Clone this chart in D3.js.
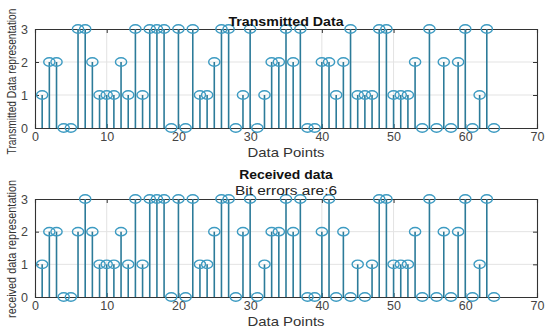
<!DOCTYPE html>
<html><head><meta charset="utf-8">
<script src="https://cdn.jsdelivr.net/npm/d3@7/dist/d3.min.js"></script>
<style>
body{margin:0;background:#fff;}
svg{display:block;font-family:"Liberation Sans",Arial,sans-serif;}
</style></head>
<body><svg id="c" width="550" height="329"></svg>
<script>
const points = d3.range(1, 65);
const transmitted = [1,2,2,0,0,3,3,2,1,1,1,2,1,3,1,3,3,3,0,3,0,3,1,1,2,3,3,0,1,3,0,1,2,2,3,2,3,0,0,2,2,1,2,3,1,1,1,3,3,1,1,1,2,0,3,0,2,0,2,3,0,1,3,0];
const received    = [1,2,2,0,0,2,3,2,1,1,1,2,1,3,1,3,3,3,0,3,0,3,1,1,2,3,3,0,2,3,0,1,2,2,3,2,3,0,0,2,3,0,2,0,1,0,1,3,3,1,1,1,2,0,3,0,2,0,2,3,0,1,3,0];
const xTicks = [0,10,20,30,40,50,60,70];
const yTicks = [0,1,2,3];
const bitErrors = transmitted.filter((v,i)=>v!==received[i]).length;

const svg = d3.select("#c");
const x = d3.scaleLinear().domain([0,70]).range([35,537]);

function panel(values, y0, y1, title, subtitle, ylabel, ylabelLen, titleY, ylabelShift){
  const y = d3.scaleLinear().domain([0,3]).range([y0,y1]);
  const g = svg.append("g");
  // grid
  g.selectAll(".gx").data(xTicks.slice(1,-1)).enter().append("line")
    .attr("x1",d=>x(d)).attr("x2",d=>x(d)).attr("y1",y(0)).attr("y2",y(3))
    .attr("stroke","#e3e3e3").attr("stroke-width",1);
  g.selectAll(".gy").data(yTicks.slice(1,-1)).enter().append("line")
    .attr("x1",x(0)).attr("x2",x(70)).attr("y1",d=>y(d)).attr("y2",d=>y(d))
    .attr("stroke","#e3e3e3").attr("stroke-width",1);
  // axes
  const ax = g.append("g").attr("transform",`translate(0,${y(0)})`)
    .call(d3.axisBottom(x).tickValues(xTicks).tickSize(-4).tickPadding(4).tickFormat(d3.format("d")));
  const axT = g.append("g").attr("transform",`translate(0,${y(3)})`)
    .call(d3.axisTop(x).tickValues(xTicks).tickSize(-4).tickFormat(""));
  const ay = g.append("g").attr("transform",`translate(${x(0)},0)`)
    .call(d3.axisLeft(y).tickValues(yTicks).tickSize(-4).tickPadding(7).tickFormat(d3.format("d")));
  const ayR = g.append("g").attr("transform",`translate(${x(70)},0)`)
    .call(d3.axisRight(y).tickValues(yTicks).tickSize(-4).tickFormat(""));
  [ax,axT,ay,ayR].forEach(a=>{
    a.select(".domain").attr("stroke","#333").attr("stroke-width",1.1);
    a.selectAll(".tick line").attr("stroke","#333");
    a.selectAll("text").attr("fill","#444").attr("font-size",12.5)
      .attr("font-family","'Liberation Sans',Arial,sans-serif");
  });
  // stems
  g.selectAll(".stem").data(values).enter().append("line")
    .attr("x1",(d,i)=>x(points[i])).attr("x2",(d,i)=>x(points[i]))
    .attr("y1",y(0)).attr("y2",d=>y(d))
    .attr("stroke","#2c7b99").attr("stroke-width",1.6);
  g.selectAll(".mk").data(values).enter().append("ellipse")
    .attr("cx",(d,i)=>x(points[i])).attr("cy",d=>y(d))
    .attr("rx",5.6).attr("ry",4.2)
    .attr("fill","none").attr("stroke","#3d9bc2").attr("stroke-width",1.4);
  // title
  g.append("text").attr("x",286).attr("y",titleY).attr("text-anchor","middle")
    .attr("font-weight","bold").attr("font-size",12).attr("fill","#111")
    .attr("textLength",title.length*7.2).attr("lengthAdjust","spacingAndGlyphs")
    .text(title);
  if(subtitle){
    g.append("text").attr("x",286).attr("y",titleY+16).attr("text-anchor","middle")
      .attr("font-size",12).attr("fill","#222")
      .attr("textLength",102).attr("lengthAdjust","spacingAndGlyphs")
      .text(subtitle);
  }
  // x label
  g.append("text").attr("x",286).attr("y",y(0)+29).attr("text-anchor","middle")
    .attr("font-size",13).attr("fill","#333")
    .attr("textLength",77).attr("lengthAdjust","spacingAndGlyphs")
    .text("Data Points");
  // y label (compressed along its length by a scale transform)
  const cy = (y(0)+y(3))/2 + ylabelShift;
  const yl = g.append("text")
    .attr("text-anchor","middle").attr("font-size",12.5).attr("fill","#333")
    .text(ylabel);
  const natural = yl.node().getComputedTextLength();
  const s = ylabelLen / natural;
  yl.attr("transform",`translate(16,${cy}) rotate(-90) scale(${s},1)`);
}

panel(transmitted, 128, 29, "Transmitted Data", null, "Transmitted Data representation", 146, 26, 3);
panel(received, 297, 199, "Received data", "Bit errors are:" + bitErrors, "received data representation", 138, 179, 1);
</script></body></html>
